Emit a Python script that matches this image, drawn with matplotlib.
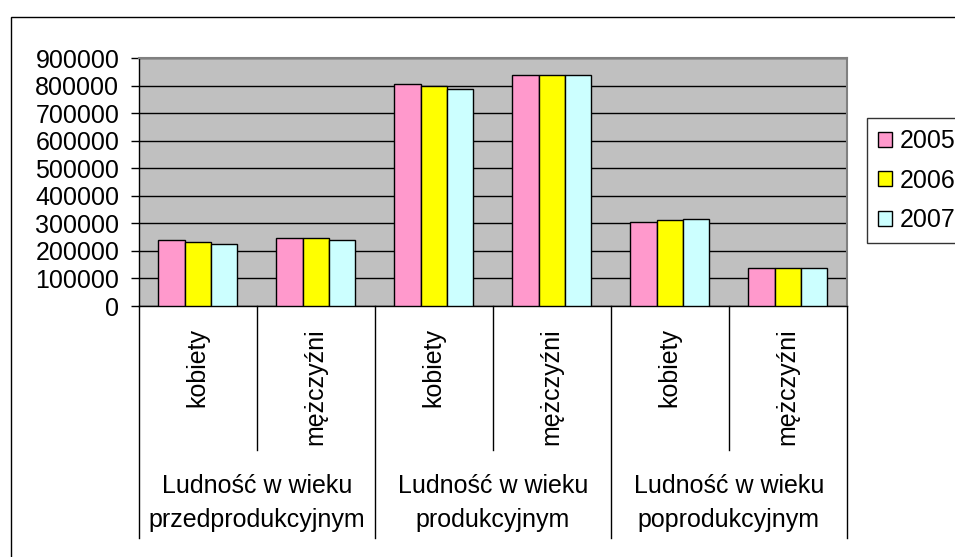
import matplotlib
matplotlib.use("Agg")
import matplotlib.pyplot as plt
import matplotlib.transforms as mtransforms
from matplotlib.patches import Rectangle
import numpy as np

plt.rcParams['font.family'] = ['Liberation Sans', 'DejaVu Sans']

# dane
grupy = ["Ludność w wieku\nprzedprodukcyjnym",
         "Ludność w wieku\nprodukcyjnym",
         "Ludność w wieku\npoprodukcyjnym"]
plec = ["kobiety", "mężczyźni"] * 3
lata = ["2005", "2006", "2007"]
v2005 = [240000, 246000, 806000, 841000, 305000, 137000]
v2006 = [231000, 246000, 798000, 841000, 311000, 137000]
v2007 = [224000, 240000, 789000, 841000, 317000, 137000]
kolory = ["#FF99CC", "#FFFF00", "#CCFFFF"]

W, H = 955, 557
fig = plt.figure(figsize=(W / 100, H / 100), dpi=100)

# obszar wykresu (w pikselach)
x0, x1, y0, y1 = 138.7, 846.7, 58.3, 306.0
ax = fig.add_axes([x0 / W, 1 - y1 / H, (x1 - x0) / W, (y1 - y0) / H])
ax.set_facecolor("#C0C0C0")

x = np.arange(len(plec))
bw = 0.222
for i, (vals, kol, rok) in enumerate(zip([v2005, v2006, v2007], kolory, lata)):
    ax.bar(x + (i - 1) * bw, vals, width=bw, color=kol, edgecolor="black",
           linewidth=1.0, label=rok, zorder=3)

ax.set_xlim(-0.5, len(plec) - 0.5)
ax.set_ylim(0, 900000)
ax.set_yticks(np.arange(0, 900001, 100000))
ax.set_yticklabels([str(v) for v in range(0, 900001, 100000)])
ax.yaxis.grid(True, color="black", linewidth=1.0, zorder=0)
ax.set_axisbelow(True)
ax.tick_params(axis="y", length=6, width=1, direction="out", labelsize=18, pad=8)

ax.set_xticks(x)
ax.set_xticklabels(plec, rotation=90, fontsize=18, va="top", ha="center")
ax.tick_params(axis="x", length=0, pad=16)

for s in ["top", "right"]:
    ax.spines[s].set_color("#808080")
    ax.spines[s].set_linewidth(1.5)
for s in ["left", "bottom"]:
    ax.spines[s].set_color("black")
    ax.spines[s].set_linewidth(1.0)

# linie podziału osi kategorii
tr = mtransforms.blended_transform_factory(ax.transData, fig.transFigure)
y_in = 1 - 450 / H
y_out = 1 - 538 / H
y_ax = 1 - y1 / H
for k in range(len(plec) + 1):
    xb = k - 0.5
    y_end = y_out if k % 2 == 0 else y_in
    ax.plot([xb, xb], [y_ax, y_end], color="black", linewidth=1.0,
            transform=tr, clip_on=False)

for g, nazwa in enumerate(grupy):
    ax.text(2 * g + 0.5, 1 - 503 / H, nazwa, transform=tr, ha="center",
            va="center", fontsize=18, linespacing=1.5)

# ramka obszaru wykresu
fig.add_artist(Rectangle((11 / W, -0.2), 1.5, 1 - 17 / H + 0.2,
                         transform=fig.transFigure, fill=False,
                         edgecolor="black", linewidth=1.0))

leg = fig.legend(loc="upper left", bbox_to_anchor=(867 / W, 1 - 118 / H),
                 bbox_transform=fig.transFigure, borderaxespad=0,
                 fontsize=18, handlelength=0.55, handleheight=0.55,
                 handletextpad=0.3, labelspacing=0.62, borderpad=0.45,
                 fancybox=False, frameon=True)
leg.get_frame().set_edgecolor("black")
leg.get_frame().set_linewidth(1.0)
# dopasowanie odstępów w pionie
leg._legend_box.sep = 0

fig.savefig("out.png", dpi=100)
